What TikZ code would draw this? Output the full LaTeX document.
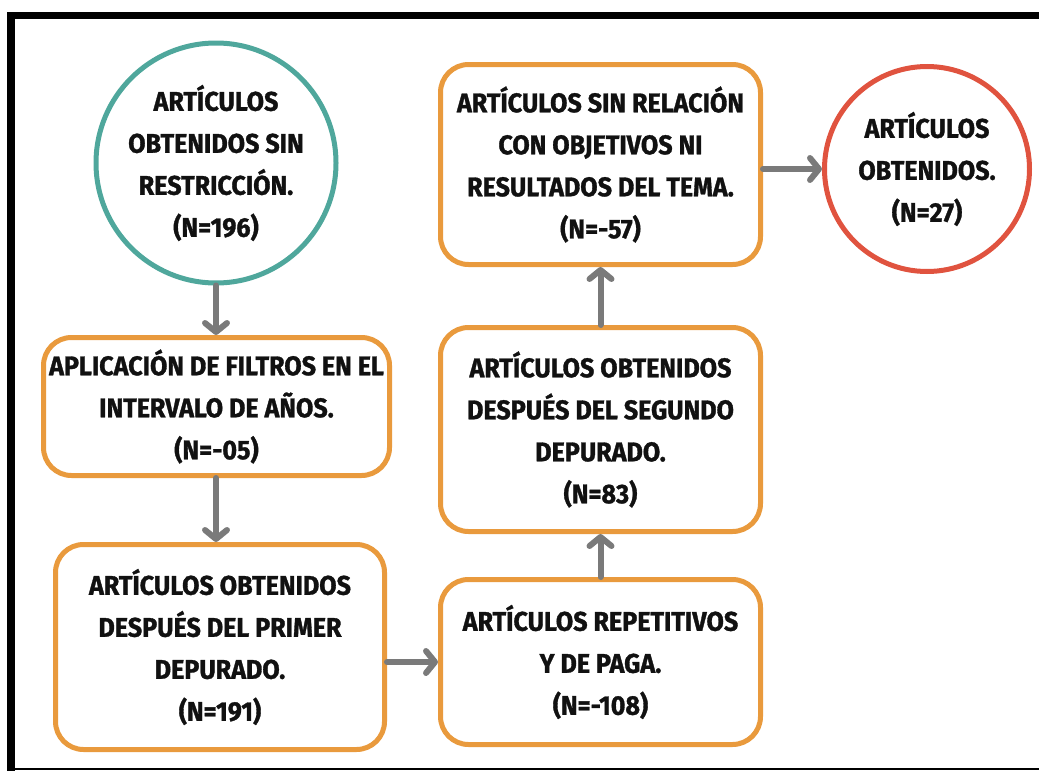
\documentclass[tikz,border=0pt]{standalone}
\usepackage{fontspec}
\setmainfont{Fira Sans}[FakeStretch=0.93, BoldFeatures={FakeBold=1.2}]
\usepackage{xcolor}
\usepackage{tikz}
\usetikzlibrary{shapes,arrows.meta,positioning,calc}

\definecolor{cajaborde}{HTML}{E99A3D}
\definecolor{inicioborde}{HTML}{4FA79C}
\definecolor{finalborde}{HTML}{E0533F}
\definecolor{flecha}{HTML}{7A7A7A}
\definecolor{texto}{HTML}{111111}

\tikzset{
  caja/.style={draw=cajaborde, line width=5pt, rectangle, rounded corners=28pt,
    align=center, text=texto, font=\fontsize{27}{42}\selectfont\bfseries},
  circulo/.style={draw, line width=5pt, circle, inner sep=0pt,
    align=center, text=texto, font=\fontsize{27}{42}\selectfont\bfseries},
  flechagris/.style={draw=flecha, line width=6pt, line cap=round,
    -{Straight Barb[length=9pt, width=22pt, line width=6pt, round]}}
}

\begin{document}
\begin{tikzpicture}[x=1pt, y=-1pt]
    \useasboundingbox (0,0) rectangle (1039,771);

    % marco
    \draw [line width=7.5pt] (11,771) -- (11,15.5) -- (1039,15.5);
    \draw [line width=2pt] (11,769) -- (1039,769);

    % columna izquierda
    \node [circulo, draw=inicioborde, minimum size=240pt] (inicio) at (216,163) {ARTÍCULOS\\OBTENIDOS SIN\\RESTRICCIÓN.\\(N=196)};
    \node [caja, minimum width=346pt, minimum height=138pt] (filtros) at (216.5,406.5) {APLICACIÓN DE FILTROS EN EL\\INTERVALO DE AÑOS.\\(N=-05)};
    \node [caja, minimum width=329pt, minimum height=205pt] (primer) at (220,647) {ARTÍCULOS OBTENIDOS\\DESPUÉS DEL PRIMER\\DEPURADO.\\(N=191)};

    % columna central
    \node [caja, minimum width=320pt, minimum height=165pt] (repetidos) at (600.5,662) {ARTÍCULOS REPETITIVOS\\Y DE PAGA.\\(N=-108)};
    \node [caja, minimum width=320pt, minimum height=204pt] (segundo) at (600.5,429.5) {ARTÍCULOS OBTENIDOS\\DESPUÉS DEL SEGUNDO\\DEPURADO.\\(N=83)};
    \node [caja, minimum width=320pt, minimum height=200pt] (relacion) at (600.5,164.5) {ARTÍCULOS SIN RELACIÓN\\CON OBJETIVOS NI\\RESULTADOS DEL TEMA.\\(N=-57)};

    % resultado
    \node [circulo, draw=finalborde, minimum size=205pt] (final) at (927,169) {ARTÍCULOS\\OBTENIDOS.\\(N=27)};

    % Conexiones
    \draw [flechagris] (inicio.south) -- (inicio.south |- filtros.north);
    \draw [flechagris] (filtros.south -| inicio.south) -- (inicio.south |- primer.north);
    \draw [flechagris] (primer.east |- repetidos.west) -- (repetidos.west);
    \draw [flechagris] (repetidos.north) -- (segundo.south);
    \draw [flechagris] (segundo.north) -- (relacion.south);
    \draw [flechagris] (relacion.east |- final.west) -- (final.west);
\end{tikzpicture}
\end{document}
